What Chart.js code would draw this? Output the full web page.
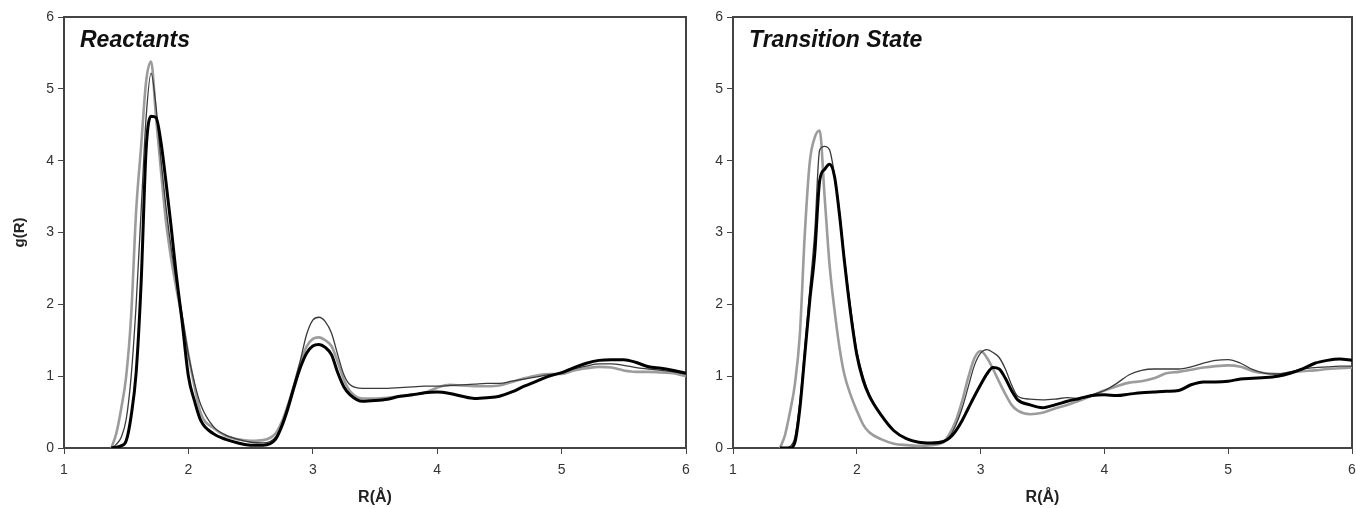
<!DOCTYPE html>
<html>
<head>
<meta charset="utf-8">
<script src="https://cdn.jsdelivr.net/npm/chart.js@4.4.1/dist/chart.umd.min.js"></script>
<style>
  html, body { margin: 0; padding: 0; background: #fff; }
  #wrap { position: relative; width: 1356px; height: 508px; overflow: hidden; }
  #wrap canvas { position: absolute; top: 0; }
</style>
</head>
<body>
<div id="wrap">
  <canvas id="reactants" width="700" height="508" style="left:0"></canvas>
  <canvas id="transition" width="692" height="508" style="left:680px"></canvas>
</div>
<script>
// R values (Angstrom) shared by every curve
const rGrid = [1.38, 1.42, 1.46, 1.5, 1.54, 1.58, 1.62, 1.66, 1.70, 1.74, 1.78, 1.82, 1.86, 1.90, 1.95,
  2.0, 2.05, 2.1, 2.2, 2.3, 2.4, 2.5, 2.6, 2.7, 2.75, 2.8, 2.85, 2.9, 2.95, 3.0, 3.05, 3.1, 3.15, 3.2, 3.25,
  3.3, 3.4, 3.5, 3.6, 3.7, 3.8, 3.9, 4.0, 4.1, 4.2, 4.3, 4.4, 4.5, 4.6, 4.7, 4.8, 4.9, 5.0, 5.1, 5.2, 5.3,
  5.4, 5.5, 5.6, 5.7, 5.8, 5.9, 6.0];

const xTicks = [1, 2, 3, 4, 5, 6];
const yTicks = [0, 1, 2, 3, 4, 5, 6];

// Reactants panel
const reactThick = [0, 0.01, 0.03, 0.1, 0.45, 1.05, 2.3, 4.15, 4.62, 4.6, 4.25, 3.7, 3.1, 2.45, 1.75,
  1.0, 0.65, 0.38, 0.2, 0.12, 0.07, 0.04, 0.04, 0.12, 0.3, 0.55, 0.85, 1.12, 1.32, 1.42, 1.44, 1.4, 1.3, 1.05, 0.85,
  0.74, 0.65, 0.66, 0.68, 0.72, 0.74, 0.77, 0.78, 0.76, 0.72, 0.69, 0.70, 0.72, 0.78, 0.86, 0.93, 1.0, 1.05, 1.12, 1.18, 1.22,
  1.23, 1.23, 1.19, 1.13, 1.11, 1.08, 1.04];
const reactThin = [0, 0.05, 0.15, 0.4, 1.0, 2.0, 3.3, 4.6, 5.22, 4.75, 4.0, 3.35, 2.8, 2.35, 1.85,
  1.3, 0.9, 0.6, 0.3, 0.18, 0.12, 0.08, 0.07, 0.15, 0.33, 0.6, 0.9, 1.22, 1.58, 1.78, 1.82, 1.76, 1.6, 1.3, 1.02,
  0.88, 0.83, 0.83, 0.83, 0.84, 0.85, 0.86, 0.86, 0.87, 0.88, 0.89, 0.9, 0.9, 0.93, 0.96, 0.99, 1.02, 1.04, 1.1, 1.14, 1.17,
  1.17, 1.15, 1.12, 1.1, 1.08, 1.06, 1.03];
const reactGrey = [0, 0.2, 0.55, 1.0, 1.85, 3.3, 4.2, 5.1, 5.38, 4.6, 3.85, 3.15, 2.65, 2.25, 1.8,
  1.3, 0.85, 0.48, 0.28, 0.17, 0.12, 0.1, 0.11, 0.2, 0.36, 0.6, 0.88, 1.18, 1.41, 1.52, 1.54, 1.5, 1.42, 1.2, 0.95,
  0.79, 0.69, 0.69, 0.7, 0.72, 0.74, 0.77, 0.84, 0.88, 0.87, 0.86, 0.86, 0.87, 0.92, 0.97, 1.01, 1.03, 1.03, 1.08, 1.11, 1.13,
  1.12, 1.08, 1.06, 1.06, 1.05, 1.04, 1.0];

// Transition state panel
const tsThick = [0, 0, 0, 0.08, 0.55, 1.3, 2.05, 2.7, 3.72, 3.88, 3.95, 3.78, 3.25, 2.6, 1.88,
  1.3, 0.95, 0.73, 0.45, 0.24, 0.13, 0.08, 0.07, 0.09, 0.14, 0.24, 0.38, 0.55, 0.72, 0.88, 1.03, 1.12, 1.1, 0.97, 0.8,
  0.67, 0.6, 0.56, 0.6, 0.65, 0.69, 0.73, 0.74, 0.73, 0.75, 0.77, 0.78, 0.79, 0.8, 0.88, 0.92, 0.92, 0.93, 0.96, 0.97, 0.98,
  1.0, 1.04, 1.1, 1.18, 1.22, 1.24, 1.22];
const tsThin = [0, 0, 0.02, 0.15, 0.65, 1.4, 2.2, 3.0, 4.15, 4.2, 4.15, 3.8, 3.3, 2.65, 1.95,
  1.35, 1.0, 0.75, 0.45, 0.24, 0.13, 0.08, 0.07, 0.09, 0.16, 0.32, 0.55, 0.85, 1.15, 1.32, 1.37, 1.33, 1.26, 1.1, 0.88,
  0.72, 0.68, 0.67, 0.68, 0.7, 0.69, 0.74, 0.8, 0.9, 1.02, 1.08, 1.1, 1.1, 1.1, 1.13, 1.18, 1.22, 1.23, 1.18, 1.09, 1.04,
  1.03, 1.06, 1.1, 1.12, 1.13, 1.14, 1.14];
const tsGrey = [0, 0.18, 0.5, 0.89, 1.58, 2.98, 3.98, 4.32, 4.42, 3.5, 2.55, 1.92, 1.4, 1.02, 0.74,
  0.52, 0.33, 0.22, 0.12, 0.06, 0.04, 0.03, 0.04, 0.08, 0.2, 0.38, 0.65, 0.98, 1.25, 1.35, 1.26, 1.1, 0.92, 0.75, 0.6,
  0.52, 0.47, 0.49, 0.55, 0.6, 0.66, 0.73, 0.8, 0.86, 0.91, 0.93, 0.97, 1.04, 1.06, 1.09, 1.12, 1.14, 1.15, 1.13, 1.07, 1.04,
  1.03, 1.05, 1.07, 1.08, 1.1, 1.11, 1.12];

const FONT = '"Liberation Sans", Arial, sans-serif';

// frame round the plot area + italic panel label inside it
const framePlugin = {
  id: 'frame',
  beforeDatasetsDraw(chart) {
    const { ctx, chartArea: a } = chart;
    ctx.save();
    ctx.strokeStyle = '#444';
    ctx.lineWidth = 2;
    ctx.strokeRect(a.left, a.top, a.right - a.left, a.bottom - a.top);
    ctx.restore();
  },
  afterDraw(chart, args, opts) {
    const { ctx, chartArea: a } = chart;
    ctx.save();
    ctx.font = 'italic bold 23px ' + FONT;
    ctx.fillStyle = '#111';
    ctx.textBaseline = 'alphabetic';
    ctx.fillText(opts.text, a.left + 16, a.top + 30);
    ctx.restore();
  }
};

function series(values) {
  return rGrid.map((r, i) => ({ x: r, y: values[i] }));
}

function makeChart(id, label, thick, thin, grey, yTitle, yWidth, padRight) {
  return new Chart(document.getElementById(id), {
    type: 'line',
    data: {
      datasets: [
        { data: series(thick), borderColor: '#000', borderWidth: 3 },
        { data: series(thin), borderColor: '#3a3a3a', borderWidth: 1.3 },
        { data: series(grey), borderColor: '#9c9c9c', borderWidth: 2.6 },
      ],
    },
    options: {
      responsive: false,
      animation: false,
      events: [],
      layout: { padding: { left: 0, right: padRight, top: 17, bottom: 0 } },
      elements: {
        point: { radius: 0 },
        line: { tension: 0.3, cubicInterpolationMode: 'monotone' },
      },
      scales: {
        x: {
          type: 'linear',
          min: 1,
          max: 6,
          afterBuildTicks: (scale) => { scale.ticks = xTicks.map((v) => ({ value: v })); },
          afterFit: (scale) => { scale.height = 60; },
          border: { display: true, color: '#444', width: 2 },
          grid: { drawOnChartArea: false, drawTicks: true, tickLength: 6, color: '#444' },
          ticks: { color: '#333', padding: 8, font: { family: FONT, size: 14 } },
          title: {
            display: true,
            text: 'R(Å)',
            color: '#222',
            font: { family: FONT, size: 16, weight: 'bold' },
            padding: { top: 0, bottom: 1 },
          },
        },
        y: {
          min: 0,
          max: 6,
          afterBuildTicks: (scale) => { scale.ticks = yTicks.map((v) => ({ value: v })); },
          afterFit: (scale) => { scale.width = yWidth; },
          border: { display: true, color: '#444', width: 2 },
          grid: { drawOnChartArea: false, drawTicks: true, tickLength: 6, color: '#444' },
          ticks: { color: '#333', padding: 4, font: { family: FONT, size: 14 } },
          title: {
            display: !!yTitle,
            text: yTitle,
            color: '#222',
            font: { family: FONT, size: 15, weight: 'bold' },
            padding: { top: 11, bottom: 0 },
          },
        },
      },
      plugins: {
        legend: { display: false },
        tooltip: { enabled: false },
        frame: { text: label },
      },
    },
    plugins: [framePlugin],
  });
}

makeChart('reactants', 'Reactants', reactThick, reactThin, reactGrey, 'g(R)', 64, 14);
makeChart('transition', 'Transition State', tsThick, tsThin, tsGrey, '', 53, 20);
</script>
</body>
</html>
